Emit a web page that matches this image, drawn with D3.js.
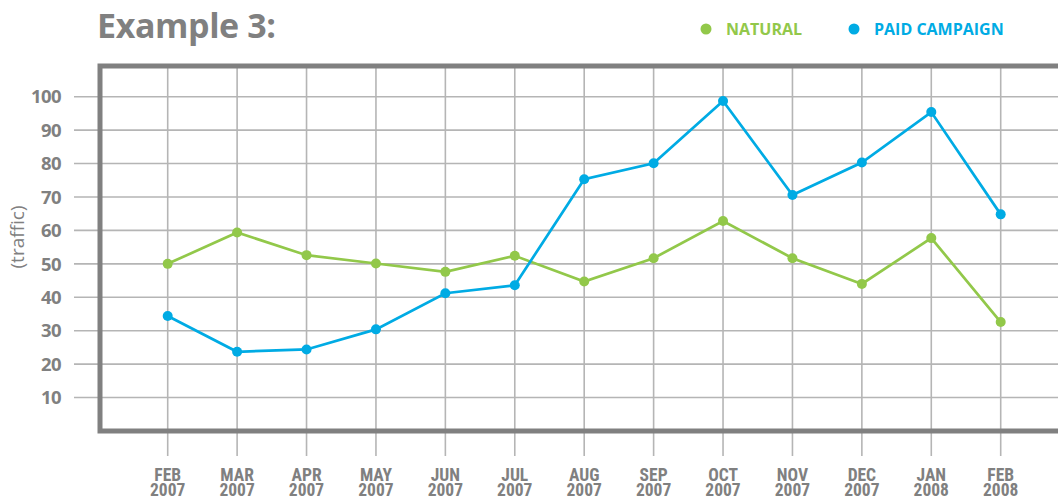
<!DOCTYPE html>
<html>
<head>
<meta charset="utf-8">
<script src="https://cdn.jsdelivr.net/npm/d3@7"></script>
<style>
  body { margin: 0; background: #fff; }
  svg { display: block; }
</style>
</head>
<body>
<div id="chart"></div>
<script>
// months along the bottom
var months = ["FEB", "MAR", "APR", "MAY", "JUN", "JUL", "AUG", "SEP", "OCT", "NOV", "DEC", "JAN", "FEB"];
var years = ["2007", "2007", "2007", "2007", "2007", "2007", "2007", "2007", "2007", "2007", "2007", "2008", "2008"];

// series
var natural = [50, 59.4, 52.6, 50.1, 47.6, 52.4, 44.7, 51.7, 62.8, 51.7, 44, 57.7, 32.6];
var paid = [34.4, 23.7, 24.4, 30.4, 41.2, 43.6, 75.3, 80.1, 98.7, 70.6, 80.3, 95.4, 64.8];

var yTicks = [10, 20, 30, 40, 50, 60, 70, 80, 90, 100];

var green = "#92c84a";
var blue = "#00abe4";
var grey = "#808080";
var gridGrey = "#b5b5b5";

var width = 1058, height = 500;

var svg = d3.select("#chart")
  .append("svg")
  .attr("width", width)
  .attr("height", height);

var x = d3.scalePoint()
  .domain(d3.range(months.length))
  .range([167.7, 1000.7]);

var y = d3.scaleLinear()
  .domain([0, 100])
  .range([431, 96.7]);

// horizontal grid
svg.append("g")
  .selectAll("line")
  .data(yTicks)
  .enter()
  .append("line")
  .attr("x1", 74)
  .attr("x2", width)
  .attr("y1", function(d) { return y(d); })
  .attr("y2", function(d) { return y(d); })
  .style("stroke", gridGrey)
  .style("stroke-width", 1.6);

// vertical grid, runs below the frame
var xs = d3.range(months.length + 1);
svg.append("g")
  .selectAll("line")
  .data(xs)
  .enter()
  .append("line")
  .attr("x1", function(i) { return 167.7 + i * x.step(); })
  .attr("x2", function(i) { return 167.7 + i * x.step(); })
  .attr("y1", 66)
  .attr("y2", 456)
  .style("stroke", gridGrey)
  .style("stroke-width", 1.6);

// frame (open on the right)
svg.append("path")
  .attr("d", "M" + width + "," + 66 + "H100V" + y(0) + "H" + width)
  .attr("fill", "none")
  .style("stroke", grey)
  .style("stroke-width", 5);

// y tick labels
svg.append("g")
  .selectAll("text")
  .data(yTicks)
  .enter()
  .append("text")
  .attr("x", 61)
  .attr("y", function(d) { return y(d); })
  .attr("dy", "0.36em")
  .attr("text-anchor", "end")
  .style("font-family", "'Open Sans', sans-serif")
  .style("font-weight", 700)
  .style("font-size", "18.5px")
  .style("letter-spacing", "-0.6px")
  .style("fill", grey)
  .text(function(d) { return d; });

svg.append("text")
  .attr("transform", "translate(24,237) rotate(-90)")
  .attr("text-anchor", "middle")
  .style("font-family", "'Open Sans', sans-serif")
  .style("font-size", "19px")
  .style("fill", grey)
  .text("(traffic)");

// x labels, two lines
var xl = svg.append("g")
  .selectAll("text")
  .data(months)
  .enter()
  .append("text")
  .attr("text-anchor", "middle")
  .style("font-family", "'Liberation Sans Narrow', 'Roboto Condensed', sans-serif")
  .style("font-weight", 700)
  .style("font-size", "17.5px")
  .style("fill", grey);
xl.append("tspan")
  .attr("x", function(d, i) { return x(i); })
  .attr("y", 481)
  .text(function(d) { return d; });
xl.append("tspan")
  .attr("x", function(d, i) { return x(i); })
  .attr("y", 496)
  .text(function(d, i) { return years[i]; });

// lines and dots
var line = d3.line()
  .x(function(d, i) { return x(i); })
  .y(function(d) { return y(d); });

[[natural, green], [paid, blue]].forEach(function(s) {
  svg.append("path")
    .datum(s[0])
    .attr("d", line)
    .attr("fill", "none")
    .style("stroke", s[1])
    .style("stroke-width", 2.7);
  svg.append("g")
    .selectAll("circle")
    .data(s[0])
    .enter()
    .append("circle")
    .attr("cx", function(d, i) { return x(i); })
    .attr("cy", function(d) { return y(d); })
    .attr("r", 5)
    .attr("fill", s[1]);
});

// title
svg.append("text")
  .attr("x", 97)
  .attr("y", 38)
  .style("font-family", "'Open Sans', sans-serif")
  .style("font-weight", 700)
  .style("font-size", "34px")
  .style("letter-spacing", "-0.4px")
  .style("fill", grey)
  .text("Example 3:");

// legend
var legend = [["NATURAL", green, 706], ["PAID CAMPAIGN", blue, 854]];
legend.forEach(function(l) {
  svg.append("circle")
    .attr("cx", l[2])
    .attr("cy", 29)
    .attr("r", 5.5)
    .attr("fill", l[1]);
  svg.append("text")
    .attr("x", l[2] + 20)
    .attr("y", 35)
    .style("font-family", "'Open Sans', sans-serif")
    .style("font-weight", 700)
    .style("font-size", "16px")
    .style("fill", l[1])
    .text(l[0]);
});
</script>
</body>
</html>
